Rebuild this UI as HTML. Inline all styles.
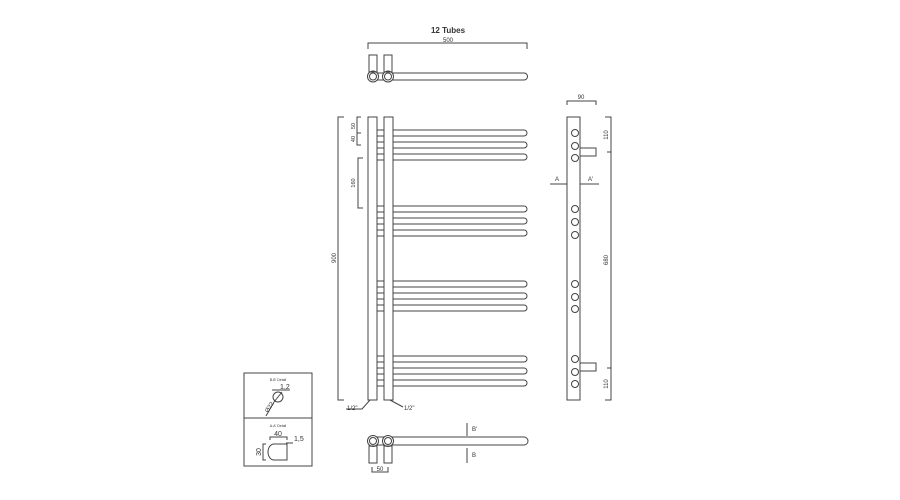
<!DOCTYPE html>
<html><head><meta charset="utf-8"><style>html,body{margin:0;padding:0;background:#fff}svg{display:block}text{font-family:"Liberation Sans",sans-serif;fill:#333}</style></head><body>
<svg width="900" height="500" viewBox="0 0 900 500" xmlns="http://www.w3.org/2000/svg" fill="none" stroke="#444" stroke-width="1">
<!-- top view -->
<text x="448" y="33" font-size="8" font-weight="bold" text-anchor="middle" stroke="none">12  Tubes</text>
<text x="448" y="42" font-size="6" text-anchor="middle" stroke="none">500</text>
<path d="M368 49V43H527V49"/>
<rect x="369" y="55" width="8" height="17"/>
<rect x="384" y="55" width="8" height="17"/>
<path d="M392 73H524A3.5 3.5 0 0 1 524 80H392"/>
<path d="M377 73H384M377 80H384"/>
<circle cx="373" cy="76.5" r="5.5"/><circle cx="373" cy="76.5" r="3.5"/>
<circle cx="388" cy="76.5" r="5.5"/><circle cx="388" cy="76.5" r="3.5"/>
<!-- front view -->
<path d="M344 117H338V400H344"/>
<text x="336" y="258" font-size="6" stroke="none" transform="rotate(-90 336 258)" text-anchor="middle">900</text>
<path d="M361 117H357V145H361M357 133H361"/>
<text x="355" y="126" font-size="5.5" stroke="none" transform="rotate(-90 355 126)" text-anchor="middle">50</text>
<text x="355" y="139" font-size="5.5" stroke="none" transform="rotate(-90 355 139)" text-anchor="middle">40</text>
<path d="M363 158H358V208H363"/>
<text x="355" y="183" font-size="5.5" stroke="none" transform="rotate(-90 355 183)" text-anchor="middle">160</text>
<rect x="368" y="117" width="9" height="283"/>
<rect x="384" y="117" width="9" height="283"/>
<g id="tubes">
<path d="M393 130H524A3 3 0 0 1 524 136H393M393 142H524A3 3 0 0 1 524 148H393M393 154H524A3 3 0 0 1 524 160H393"/>
<path d="M377 130H384M377 136H384M377 142H384M377 148H384M377 154H384M377 160H384"/>
</g>
<use href="#tubes" transform="translate(0,76)"/>
<use href="#tubes" transform="translate(0,151)"/>
<use href="#tubes" transform="translate(0,226)"/>
<path d="M370 400L362 409H346"/>
<text x="347" y="410" font-size="6" stroke="none">1/2"</text>
<path d="M390 400L403 407"/>
<text x="404" y="410" font-size="6" stroke="none">1/2"</text>
<!-- bottom view -->
<rect x="369" y="446" width="8" height="17"/>
<rect x="384" y="446" width="8" height="17"/>
<path d="M392 437H524A4 4 0 0 1 524 445H392"/>
<path d="M377 437H384M377 445H384"/>
<circle cx="373" cy="441" r="5.5"/><circle cx="373" cy="441" r="3.5"/>
<circle cx="388" cy="441" r="5.5"/><circle cx="388" cy="441" r="3.5"/>
<path d="M467 423V436M467 448V463"/>
<text x="472" y="431" font-size="6" stroke="none">B'</text>
<text x="472" y="457" font-size="6" stroke="none">B</text>
<path d="M372 467V472H388V467"/>
<text x="380" y="471" font-size="6" stroke="none" text-anchor="middle">50</text>
<!-- side view -->
<path d="M567 105V101H596V105"/>
<text x="581" y="99" font-size="6" stroke="none" text-anchor="middle">90</text>
<rect x="567" y="117" width="13" height="283"/>
<g>
<circle cx="575" cy="133" r="3.5"/><circle cx="575" cy="146" r="3.5"/><circle cx="575" cy="158" r="3.5"/>
<circle cx="575" cy="209" r="3.5"/><circle cx="575" cy="222" r="3.5"/><circle cx="575" cy="235" r="3.5"/>
<circle cx="575" cy="284" r="3.5"/><circle cx="575" cy="297" r="3.5"/><circle cx="575" cy="309" r="3.5"/>
<circle cx="575" cy="359" r="3.5"/><circle cx="575" cy="372" r="3.5"/><circle cx="575" cy="384" r="3.5"/>
</g>
<path d="M580 148H596V156H580M580 363H596V371H580"/>
<path d="M550 184H567M580 184H599"/>
<text x="555" y="181" font-size="6" stroke="none">A</text>
<text x="588" y="181" font-size="6" stroke="none">A'</text>
<path d="M605 117H611V400H605M607 152H611M607 368H611"/>
<text x="608" y="135" font-size="6" stroke="none" transform="rotate(-90 608 135)" text-anchor="middle">110</text>
<text x="608" y="260" font-size="6" stroke="none" transform="rotate(-90 608 260)" text-anchor="middle">680</text>
<text x="608" y="384" font-size="6" stroke="none" transform="rotate(-90 608 384)" text-anchor="middle">110</text>
<!-- detail box -->
<rect x="244" y="373" width="68" height="93"/>
<path d="M244 418H312"/>
<text x="278" y="381" font-size="3.5" stroke="none" text-anchor="middle">B-B' Detail</text>
<circle cx="278" cy="397" r="5"/>
<path d="M274 402L282 392M272 390H290"/>
<text x="280" y="389" font-size="7" stroke="none">1,2</text>
<path d="M274 402L266 416"/>
<text x="268" y="413" font-size="6" stroke="none" transform="rotate(-58 268 413)">Ø22</text>
<text x="278" y="427" font-size="3.5" stroke="none" text-anchor="middle">A-A' Detail</text>
<path d="M270 440V437H287V440"/>
<text x="278" y="436" font-size="7" stroke="none" text-anchor="middle">40</text>
<path d="M286 443H293"/>
<text x="294" y="441" font-size="7" stroke="none">1,5</text>
<path d="M287 444V460H274A6 8 0 0 1 274 444Z"/>
<path d="M266 444H263V460H266"/>
<text x="261" y="452" font-size="7" stroke="none" transform="rotate(-90 261 452)" text-anchor="middle">30</text>
</svg>
</body></html>
